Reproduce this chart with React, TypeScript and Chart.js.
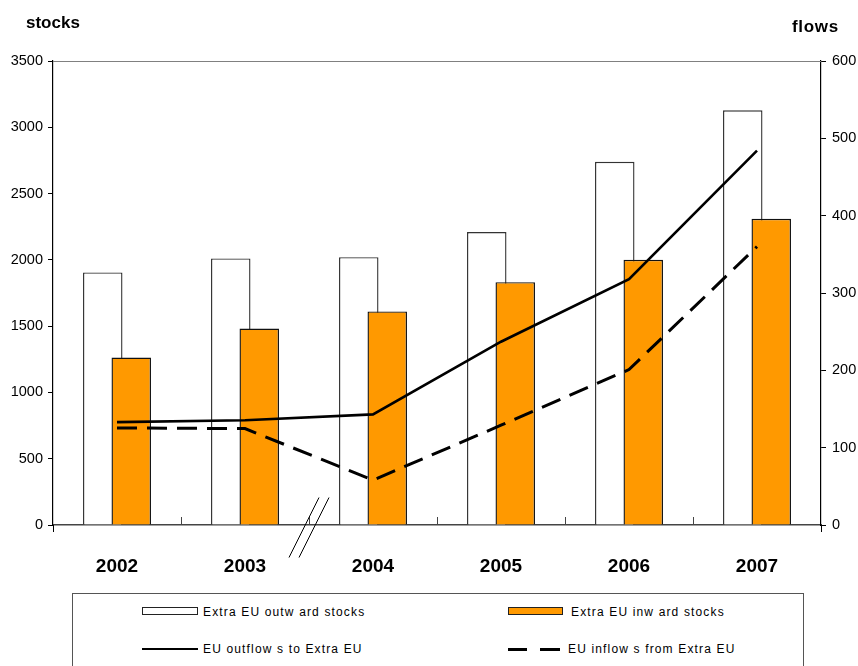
import React, { useEffect, useRef } from 'react';
import { Chart, registerables } from 'chart.js';

Chart.register(...registerables);

const years = ['2002', '2003', '2004', '2005', '2006', '2007'];
const outwardStocks = [1905, 2011, 2020, 2210, 2740, 3128];
const inwardStocks = [1263, 1482, 1611, 1832, 2000, 2310];
const outflows = [133, 135.5, 143, 237, 318, 484];
const inflows = [125.5, 124.7, 58, 129, 201, 360];
const stockMax = 3500;
const stockStep = 500;
const flowMax = 600;
const flowStep = 100;

const FONT = "'Liberation Sans', Arial, sans-serif";

// Draw the outward bars first (beneath the inward bars), while keeping them on the left of each group.
const layerFix = {
  id: 'layerFix',
  beforeDatasetsDraw(chart: any) {
    const meta = chart.getDatasetMeta(0);
    if (meta && meta.visible !== false) meta.controller.draw();
  },
  beforeDatasetDraw(chart: any, args: any) {
    if (args.index === 0) return false;
    return true;
  },
};

const decor = {
  id: 'decor',
  afterDraw(chart: any) {
    const { ctx, chartArea: a, scales } = chart;
    const x = scales.x;
    ctx.save();
    ctx.lineWidth = 1;
    ctx.strokeStyle = '#808080';
    ctx.beginPath();
    ctx.moveTo(a.left, a.top + 0.5);
    ctx.lineTo(a.right, a.top + 0.5);
    ctx.stroke();
    ctx.strokeStyle = '#444';
    for (let i = 1; i < years.length; i++) {
      const bx = Math.round((x.getPixelForValue(i - 1) + x.getPixelForValue(i)) / 2) + 0.5;
      ctx.beginPath();
      ctx.moveTo(bx, a.bottom);
      ctx.lineTo(bx, a.bottom - 8);
      ctx.stroke();
    }
    ctx.strokeStyle = '#000';
    for (const ex of [a.left, a.right]) {
      ctx.beginPath();
      ctx.moveTo(Math.round(ex) + 0.5, a.bottom);
      ctx.lineTo(Math.round(ex) + 0.5, a.bottom + 7);
      ctx.stroke();
    }
    // axis break mark between 2003 and 2004
    const bx = (x.getPixelForValue(1) + x.getPixelForValue(2)) / 2;
    const my = a.bottom + 2.5;
    for (const dx of [-5, 5]) {
      ctx.beginPath();
      ctx.moveTo(bx + dx - 15, my + 30);
      ctx.lineTo(bx + dx + 15, my - 30);
      ctx.stroke();
    }
    ctx.restore();
  },
};

function ChartCanvas() {
  const ref = useRef<HTMLCanvasElement>(null);
  useEffect(() => {
    const canvas = ref.current;
    if (!canvas) return;
    const chart = new Chart(canvas, {
      type: 'bar',
      data: {
        labels: years,
        datasets: [
          {
            type: 'bar',
            label: 'Extra EU outward stocks',
            data: outwardStocks,
            backgroundColor: '#ffffff',
            borderColor: '#333333',
            borderWidth: 1.4,
            yAxisID: 'y',
            order: 2,
            categoryPercentage: 0.445,
            barPercentage: 1.386,
          } as any,
          {
            type: 'bar',
            label: 'Extra EU inward stocks',
            data: inwardStocks,
            backgroundColor: '#FF9900',
            borderColor: '#111111',
            borderWidth: 1.4,
            yAxisID: 'y',
            order: 3,
            categoryPercentage: 0.445,
            barPercentage: 1.386,
          } as any,
          {
            type: 'line',
            label: 'EU outflows to Extra EU',
            data: outflows,
            borderColor: '#000000',
            borderWidth: 2.6,
            pointRadius: 0,
            tension: 0,
            fill: false,
            yAxisID: 'y1',
            order: 0,
          } as any,
          {
            type: 'line',
            label: 'EU inflows from Extra EU',
            data: inflows,
            borderColor: '#000000',
            borderWidth: 3,
            borderDash: [20, 10],
            pointRadius: 0,
            tension: 0,
            fill: false,
            yAxisID: 'y1',
            order: 1,
          } as any,
        ],
      },
      options: {
        responsive: false,
        animation: false,
        devicePixelRatio: 1,
        layout: { padding: { top: 61, left: 0, right: 0, bottom: 0 } },
        plugins: {
          legend: { display: false },
          tooltip: { enabled: false },
          title: { display: false },
        },
        scales: {
          x: {
            type: 'category',
            offset: true,
            grid: { display: false },
            border: { display: true, color: '#444444', width: 1.5 },
            ticks: {
              color: '#000',
              padding: 22,
              font: { family: FONT, size: 19, weight: 'bold' },
              maxRotation: 0,
            },
            afterFit: (s: any) => {
              s.height = 55;
            },
          },
          y: {
            type: 'linear',
            position: 'left',
            min: 0,
            max: stockMax,
            grid: { drawOnChartArea: false, drawTicks: true, tickLength: 5, color: '#000' },
            border: { display: true, color: '#000', width: 1.2 },
            ticks: {
              stepSize: stockStep,
              color: '#000',
              padding: 5,
              font: { family: FONT, size: 14.5 },
              callback: (v: any) => String(v),
            },
            afterFit: (s: any) => {
              s.width = 53;
            },
          },
          y1: {
            type: 'linear',
            position: 'right',
            min: 0,
            max: flowMax,
            grid: { drawOnChartArea: false, drawTicks: true, tickLength: 5, color: '#000' },
            border: { display: true, color: '#000', width: 1.2 },
            ticks: {
              stepSize: flowStep,
              color: '#000',
              padding: 6,
              font: { family: FONT, size: 14.5 },
              callback: (v: any) => String(v),
            },
            afterFit: (s: any) => {
              s.width = 37;
            },
          },
        },
      } as any,
      plugins: [layerFix, decor],
    });
    return () => chart.destroy();
  }, []);
  return <canvas ref={ref} width={858} height={580} style={{ position: 'absolute', left: 0, top: 0, width: 858, height: 580 }} />;
}

const legendText: React.CSSProperties = {
  position: 'absolute',
  fontFamily: FONT,
  fontSize: 12,
  lineHeight: '12px',
  letterSpacing: '1.15px',
  color: '#000',
  whiteSpace: 'nowrap',
};

export default function App() {
  return (
    <div style={{ position: 'fixed', left: 0, top: 0, width: 858, height: 666, background: '#fff', overflow: 'hidden' }}>
      <ChartCanvas />
      <div style={{ position: 'absolute', left: 26, top: 14, fontFamily: FONT, fontWeight: 'bold', fontSize: 17, lineHeight: '17px' }}>stocks</div>
      <div style={{ position: 'absolute', left: 792, top: 17.5, fontFamily: FONT, fontWeight: 'bold', fontSize: 17, lineHeight: '17px', letterSpacing: '0.7px' }}>flows</div>
      <div style={{ position: 'absolute', left: 72, top: 593, width: 730, height: 100, border: '1px solid #555' }} />
      <div style={{ position: 'absolute', left: 142, top: 607, width: 54, height: 6, border: '1.2px solid #222', background: '#fff' }} />
      <div style={{ ...legendText, left: 203, top: 605.8 }}>Extra EU outw ard stocks</div>
      <div style={{ position: 'absolute', left: 508, top: 607, width: 53, height: 6, border: '1.2px solid #222', background: '#FF9900' }} />
      <div style={{ ...legendText, left: 571, top: 605.8 }}>Extra EU inw ard stocks</div>
      <div style={{ position: 'absolute', left: 142, top: 648, width: 56, height: 0, borderTop: '2.6px solid #000' }} />
      <div style={{ ...legendText, left: 203, top: 642.5 }}>EU outflow s to Extra EU</div>
      <div style={{ position: 'absolute', left: 508, top: 648, width: 19, height: 0, borderTop: '3px solid #000' }} />
      <div style={{ position: 'absolute', left: 540, top: 648, width: 20, height: 0, borderTop: '3px solid #000' }} />
      <div style={{ ...legendText, left: 568, top: 642.5 }}>EU inflow s from Extra EU</div>
    </div>
  );
}
